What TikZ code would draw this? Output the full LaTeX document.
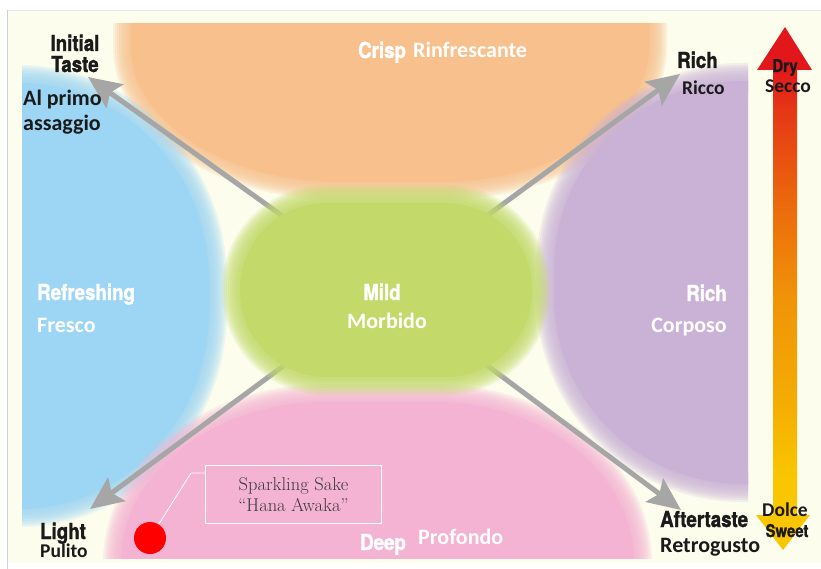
\documentclass[tikz,border=0pt]{standalone}
\usepackage{fontspec}
\usetikzlibrary{arrows.meta}
\newfontfamily\condfont[FakeStretch=0.85,FakeBold=1.4]{TeX Gyre Heros}
\newfontfamily\calfont{Carlito}
\definecolor{cream}{HTML}{FDFDEE}
\definecolor{edgeblue}{HTML}{C9D3E3}
\definecolor{crisporange}{HTML}{F7C08C}
\definecolor{freshblue}{HTML}{9DD5F4}
\definecolor{richpurple}{HTML}{CAB2D7}
\definecolor{deeppink}{HTML}{F4B3D2}
\definecolor{mildgreen}{HTML}{C3DA6B}
\definecolor{arrowgray}{HTML}{A6A6A6}
\definecolor{dryred}{HTML}{E2171C}
\definecolor{redorange}{HTML}{E53815}
\definecolor{midorange}{HTML}{EC6A0C}
\definecolor{orange2}{HTML}{F09408}
\definecolor{amber}{HTML}{F4AD03}
\definecolor{sweetyellow}{HTML}{F9C600}
\definecolor{inkgray}{HTML}{3A3A3A}
\definecolor{labelblack}{HTML}{1A1A1A}
\pgfdeclareverticalshading{dryscale}{100bp}{color(0bp)=(sweetyellow); color(25bp)=(sweetyellow);
  color(32bp)=(sweetyellow); color(39bp)=(amber); color(49bp)=(orange2); color(58bp)=(midorange);
  color(67bp)=(redorange); color(71bp)=(dryred); color(100bp)=(dryred)}
% soft edged patch: colour, path
\newcommand{\softblob}[2]{%
  \foreach \w in {36,32,...,4}
    {\draw[#1, line width=\w pt, opacity=0.2, line join=round] #2;}
  \fill[#1] #2;}
\tikzset{
  cond/.style={font=\condfont\bfseries\fontsize{22}{22}\selectfont, inner sep=0pt, anchor=base west},
  condsmall/.style={cond, font=\condfont\bfseries\fontsize{17.5}{17.5}\selectfont},
  cal/.style={font=\calfont\bfseries\fontsize{22}{22}\selectfont, inner sep=0pt, anchor=base west},
  calsmall/.style={cal, font=\calfont\bfseries\fontsize{19.5}{19.5}\selectfont},
  flavarrow/.style={draw=arrowgray, line width=5pt, -{Stealth[length=33pt,width=29pt,inset=6pt]}},
  notebox/.style={draw=white, line width=1pt, minimum width=176pt, minimum height=58pt,
    inner sep=0pt, align=center, text=inkgray, font=\fontsize{18.5}{21}\selectfont}
}
\begin{document}
\begin{tikzpicture}[x=1pt,y=-1pt]
\useasboundingbox (0,0) rectangle (821,569);
% page and panel
\fill[white] (0,0) rectangle (821,569);
\fill[cream] (8,10) rectangle (821,563);
\draw[edgeblue!50, line width=0.6pt] (8,10) -- (821,10);
\draw[edgeblue, line width=1pt] (7,10) -- (7,569);

% the four outer patches
\begin{scope}
  \clip (22,24) rectangle (748,558);
  \softblob{crisporange}{(131,0) -- (649,0) -- (649,47) arc[start angle=0,end angle=90,x radius=210,y radius=135] -- (341,182) arc[start angle=90,end angle=180,x radius=210,y radius=135] -- cycle}
  \softblob{freshblue}{(0,83) -- (19,83) arc[start angle=-90,end angle=0,x radius=190,y radius=198] -- (209,311) arc[start angle=0,end angle=90,x radius=190,y radius=198] -- (0,509) -- cycle}
  \softblob{richpurple}{(821,81) -- (742,81) arc[start angle=-90,end angle=-180,x radius=188,y radius=188] -- (554,296) arc[start angle=180,end angle=90,x radius=188,y radius=188] -- (821,484) -- cycle}
  \softblob{deeppink}{(121,569) -- (121,562) arc[start angle=180,end angle=270,x radius=205,y radius=160] -- (434,402) arc[start angle=270,end angle=360,x radius=200,y radius=160] -- (634,569) -- cycle}
\end{scope}

% arrows out of the middle
\coordinate (mildc) at (386,290);
\coordinate (tipInit) at (88,77);
\coordinate (tipRich) at (680,74);
\coordinate (tipLight) at (90,509);
\coordinate (tipAfter) at (681,510);
\foreach \t in {tipInit,tipRich,tipLight,tipAfter}
  \draw[flavarrow] (mildc) -- (\t);

% middle patch
\softblob{mildgreen}{[rounded corners=86pt] (240,203) rectangle (532,377)}

% dry / sweet scale
\shade[shading=dryscale]
  (785,27) -- (812,70) -- (797,70) -- (797,515) -- (810,515) -- (783,550)
  -- (756,515) -- (773,515) -- (773,70) -- (757,70) -- cycle;

% labels
\node[cond, anchor=base, text=labelblack] (init) at (75,51) {Initial};
\node[cond, anchor=base, text=labelblack] (taste) at (75,72) {Taste};
\node[cal, text=labelblack] (primo) at (23,106) {Al primo};
\node[cal, text=labelblack] (assaggio) at (23,131) {assaggio};
\node[cond, text=white] (crisp) at (358,58) {Crisp};
\node[cal, text=white] (rinfr) at (413,58) {Rinfrescante};
\node[cond, text=labelblack] (richtop) at (677,68) {Rich};
\node[calsmall, text=labelblack] (ricco) at (682,95) {Ricco};
\node[condsmall, anchor=base, text=labelblack] (dry) at (785,72) {Dry};
\node[calsmall, anchor=base, text=labelblack] (secco) at (788,93) {Secco};
\node[cond, text=white] (refresh) at (37,300) {Refreshing};
\node[cal, text=white] (fresco) at (37,332) {Fresco};
\node[cond, anchor=base, text=white] (mild) at (382,300) {Mild};
\node[cal, anchor=base, text=white] (morbido) at (387,328) {Morbido};
\node[cond, anchor=base east, text=white] (rich) at (727,301) {Rich};
\node[cal, anchor=base east, text=white] (corposo) at (727,332) {Corposo};
\node[cond, text=labelblack] (light) at (40,539) {Light};
\node[calsmall, text=labelblack] (pulito) at (40,557) {Pulito};
\node[cond, text=white] (deep) at (360,550) {Deep};
\node[cal, text=white] (profondo) at (418,544) {Profondo};
\node[cond, text=labelblack] (after) at (660,527) {Aftertaste};
\node[cal, text=labelblack] (retro) at (660,552) {Retrogusto};
\node[calsmall, anchor=base, text=labelblack] (dolce) at (785,516) {Dolce};
\node[condsmall, anchor=base, text=labelblack] (sweet) at (787,537) {Sweet};

% the sparkling sake
\node[circle, fill=red, minimum size=32pt, inner sep=0pt] (sakedot) at (150,538) {};
\node[notebox] (sakebox) at (293.5,494.5) {Sparkling Sake\\``Hana Awaka''};
\draw[white, line width=0.8pt] ([yshift=-8pt]sakebox.north west) -- ++(-14,0) -- (sakedot);
\end{tikzpicture}
\end{document}
